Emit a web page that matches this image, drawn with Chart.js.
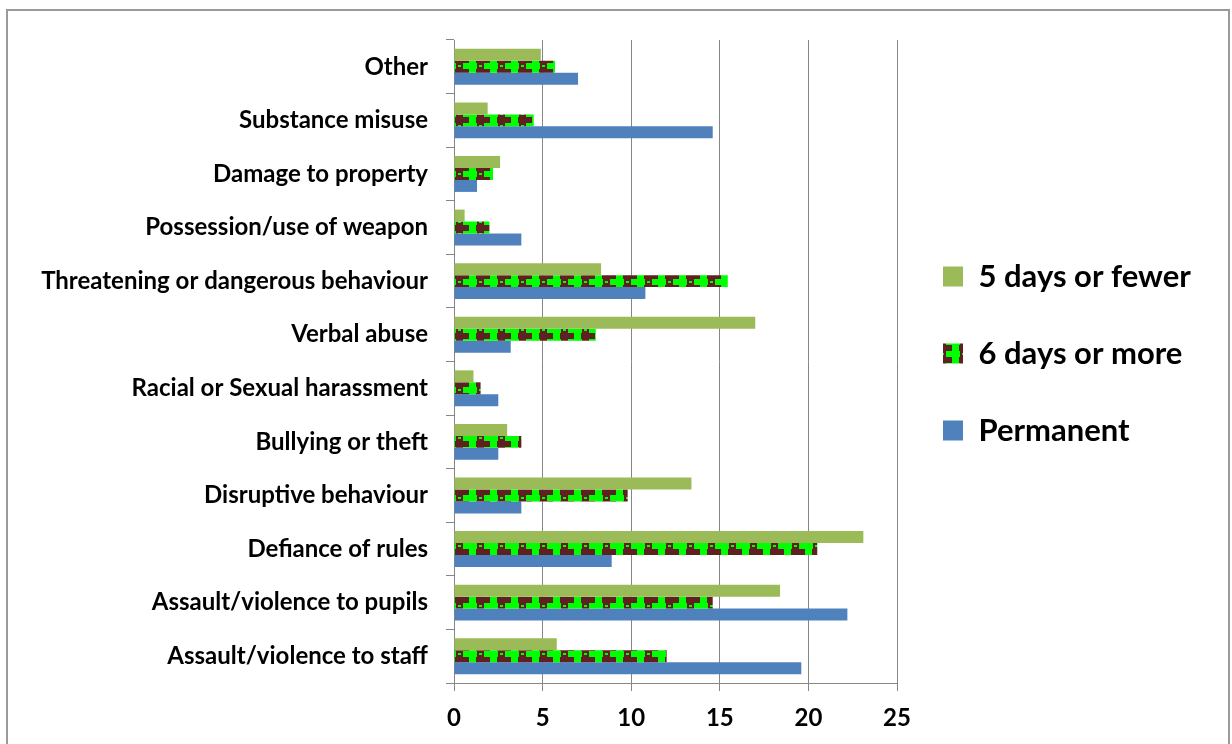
<!DOCTYPE html>
<html>
<head>
<meta charset="utf-8">
<script src="https://cdn.jsdelivr.net/npm/chart.js@4.4.1/dist/chart.umd.min.js"></script>
<style>
	body { margin: 0; background: #fff; }
	#wrap { position: relative; width: 1232px; height: 744px; }
	#frame { position: absolute; left: 6px; top: 9px; width: 1220px; height: 740px; border: 2px solid #9a9a9a; }
	#chart { position: absolute; left: 0; top: 0; }
</style>
</head>
<body>
<div id="wrap">
	<div id="frame"></div>
	<canvas id="chart" width="1232" height="744"></canvas>
</div>
<script>
var categories = ['Other', 'Substance misuse', 'Damage to property', 'Possession/use of weapon',
	'Threatening or dangerous behaviour', 'Verbal abuse', 'Racial or Sexual harassment',
	'Bullying or theft', 'Disruptive behaviour', 'Defiance of rules',
	'Assault/violence to pupils', 'Assault/violence to staff'];

var seriesNames = ['5 days or fewer', '6 days or more', 'Permanent'];

var fewer5 = [4.9, 1.9, 2.6, 0.6, 8.3, 17.0, 1.1, 3.0, 13.4, 23.1, 18.4, 5.8];
var more6 = [5.7, 4.5, 2.2, 2.0, 15.45, 8.0, 1.5, 3.8, 9.8, 20.5, 14.6, 12.0];
var permanent = [7.0, 14.6, 1.3, 3.8, 10.8, 3.2, 2.5, 2.5, 3.8, 8.9, 22.2, 19.6];

var xTicks = [0, 5, 10, 15, 20, 25];

var fontName = 'Lato';

// maroon / bright green tile like the excel pattern fill
function makePattern()
{
	var tile = document.createElement('canvas');
	tile.width = 21;
	tile.height = 12;
	var c = tile.getContext('2d');
	c.fillStyle = '#00ff00';
	c.fillRect(0, 0, 21, 12);
	c.fillStyle = '#5e2020';
	// top and bottom rows: maroon with green squares
	c.fillRect(0, 0, 7, 3);
	c.fillRect(14, 0, 7, 3);
	c.fillRect(0, 9, 7, 3);
	c.fillRect(14, 9, 7, 3);
	// ring in the middle row
	c.fillRect(15, 3, 6, 6);
	c.fillRect(0, 3, 1, 6);
	c.fillStyle = '#00ff00';
	c.fillRect(17, 5, 3, 2);
	return document.getElementById('chart').getContext('2d').createPattern(tile, 'repeat');
}

var chart = new Chart(document.getElementById('chart').getContext('2d'), {
	type: 'bar',
	data: {
		labels: categories,
		datasets: [
			{ label: seriesNames[0], data: fewer5, backgroundColor: '#9bbb59' },
			{ label: seriesNames[1], data: more6, backgroundColor: makePattern() },
			{ label: seriesNames[2], data: permanent, backgroundColor: '#4f81bd' }
		]
	},
	options: {
		indexAxis: 'y',
		responsive: false,
		animation: false,
		categoryPercentage: 0.67,
		barPercentage: 1.0,
		layout: { padding: { top: 40, left: 0, right: 36, bottom: 0 } },
		plugins: {
			tooltip: { enabled: false },
			legend: {
				position: 'right',
				labels: {
					boxWidth: 20,
					boxHeight: 20,
					padding: 46,
					color: '#000',
					font: { family: fontName, size: 31, weight: 'bold' },
					generateLabels: function(ch) {
						var items = Chart.defaults.plugins.legend.labels.generateLabels(ch);
						// empty spacer so the block sits where excel put it
						items.push({ text: '', fillStyle: 'rgba(0,0,0,0)', strokeStyle: 'rgba(0,0,0,0)', lineWidth: 0, hidden: false });
						return items;
					}
				}
			}
		},
		scales: {
			x: {
				min: 0,
				max: 25,
				afterBuildTicks: function(scale) {
					scale.ticks = xTicks.map(function(v) { return { value: v }; });
				},
				afterFit: function(scale) { scale.height = 61; },
				grid: { color: '#868686', tickLength: 8, lineWidth: 1 },
				border: { display: true, color: '#868686' },
				ticks: {
					padding: 13,
					color: '#000',
					font: { family: fontName, size: 24, weight: 'bold' }
				}
			},
			y: {
				afterFit: function(scale) { scale.width = 454; },
				grid: { offset: true, drawOnChartArea: false, tickLength: 8, color: '#868686' },
				border: { display: true, color: '#868686' },
				ticks: {
					padding: 18,
					color: '#000',
					font: { family: fontName, size: 24, weight: 'bold' }
				}
			}
		}
	}
});
</script>
</body>
</html>
